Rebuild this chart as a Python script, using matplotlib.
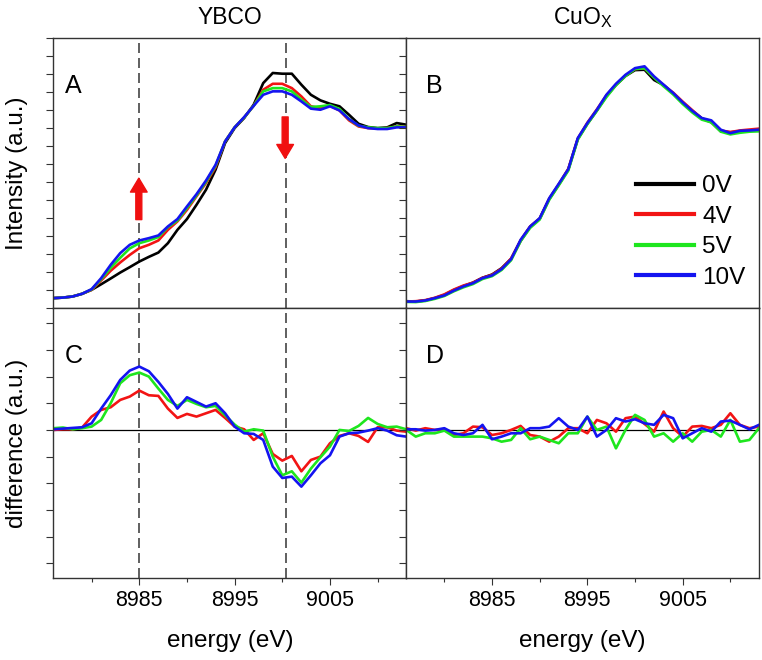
import numpy as np
import matplotlib
matplotlib.use('Agg')
import matplotlib.pyplot as plt
from matplotlib.ticker import MultipleLocator, NullFormatter

plt.rcParams['font.family'] = ['Liberation Sans', 'DejaVu Sans']

# energy grid (eV)
energy = [8976, 8977, 8978, 8979, 8980, 8981, 8982, 8983, 8984, 8985,
          8986, 8987, 8988, 8989, 8990, 8991, 8992, 8993, 8994, 8995,
          8996, 8997, 8998, 8999, 9000, 9001, 9002, 9003, 9004, 9005,
          9006, 9007, 9008, 9009, 9010, 9011, 9012, 9013]

labels = ['0V', '4V', '5V', '10V']
colors = ['black', '#f21414', '#1ee61e', '#1414f0']

# panel A: YBCO intensity
ybco_0v = [0.054, 0.057, 0.063, 0.078, 0.100, 0.131, 0.163, 0.196, 0.226, 0.257,
           0.283, 0.307, 0.359, 0.433, 0.493, 0.572, 0.656, 0.767, 0.915, 0.998,
           1.054, 1.128, 1.248, 1.304, 1.300, 1.300, 1.239, 1.183, 1.152, 1.133,
           1.119, 1.072, 1.022, 1.004, 0.998, 1.002, 1.026, 1.017]
ybco_4v = [0.054, 0.057, 0.063, 0.078, 0.100, 0.152, 0.206, 0.252, 0.294, 0.331,
           0.350, 0.374, 0.433, 0.480, 0.544, 0.619, 0.693, 0.781, 0.924, 1.002,
           1.057, 1.122, 1.211, 1.244, 1.244, 1.220, 1.174, 1.119, 1.109, 1.122,
           1.096, 1.041, 1.007, 0.998, 0.996, 0.998, 1.007, 1.004]
ybco_5v = [0.054, 0.057, 0.063, 0.078, 0.102, 0.159, 0.222, 0.278, 0.330, 0.359,
           0.374, 0.393, 0.448, 0.485, 0.554, 0.624, 0.700, 0.789, 0.924, 1.002,
           1.057, 1.122, 1.202, 1.220, 1.220, 1.202, 1.156, 1.115, 1.119, 1.126,
           1.104, 1.048, 1.011, 1.002, 0.998, 0.998, 1.007, 1.004]
ybco_10v = [0.054, 0.057, 0.063, 0.078, 0.104, 0.165, 0.239, 0.304, 0.350, 0.374,
            0.387, 0.402, 0.452, 0.493, 0.563, 0.631, 0.707, 0.794, 0.924, 1.002,
            1.059, 1.122, 1.183, 1.202, 1.202, 1.183, 1.146, 1.106, 1.100, 1.119,
            1.096, 1.048, 1.013, 0.998, 0.993, 0.993, 1.002, 1.002]

# panel B: CuOx intensity
cuox_0v = [0.037, 0.035, 0.041, 0.054, 0.072, 0.099, 0.121, 0.140, 0.167, 0.185,
           0.220, 0.272, 0.372, 0.450, 0.495, 0.604, 0.684, 0.768, 0.938, 1.022,
           1.096, 1.176, 1.237, 1.287, 1.320, 1.322, 1.265, 1.237, 1.190, 1.137,
           1.093, 1.052, 1.030, 0.980, 0.975, 0.980, 0.985, 0.989]
cuox_4v = [0.035, 0.037, 0.043, 0.056, 0.075, 0.102, 0.124, 0.140, 0.167, 0.183,
           0.218, 0.274, 0.375, 0.452, 0.496, 0.606, 0.686, 0.772, 0.940, 1.028,
           1.102, 1.180, 1.240, 1.290, 1.326, 1.330, 1.280, 1.235, 1.195, 1.145,
           1.098, 1.052, 1.035, 0.985, 0.976, 0.985, 0.990, 0.995]
cuox_5v = [0.033, 0.032, 0.038, 0.050, 0.066, 0.092, 0.114, 0.132, 0.160, 0.176,
           0.210, 0.264, 0.370, 0.444, 0.490, 0.600, 0.680, 0.762, 0.934, 1.020,
           1.094, 1.170, 1.236, 1.287, 1.326, 1.330, 1.278, 1.230, 1.185, 1.132,
           1.085, 1.045, 1.030, 0.978, 0.963, 0.972, 0.978, 0.980]
cuox_10v = [0.035, 0.035, 0.041, 0.054, 0.069, 0.096, 0.119, 0.137, 0.165, 0.180,
            0.215, 0.270, 0.378, 0.452, 0.498, 0.609, 0.689, 0.770, 0.943, 1.026,
            1.100, 1.183, 1.244, 1.294, 1.331, 1.341, 1.285, 1.239, 1.193, 1.141,
            1.094, 1.054, 1.041, 0.989, 0.970, 0.983, 0.985, 0.989]

# panel C: YBCO difference (vs 0V)
ybco_d4v = [0.000, 0.0005, 0.0005, 0.0018, 0.010, 0.015, 0.017, 0.0225, 0.025, 0.0295,
            0.026, 0.0255, 0.016, 0.009, 0.012, 0.010, 0.0125, 0.015, 0.009, 0.0025,
            0.0005, -0.0075, -0.0025, -0.018, -0.023, -0.0195, -0.031, -0.0225, -0.020, -0.010,
            -0.0045, -0.0025, -0.0045, -0.009, 0.002, 0.002, -0.0005, -0.0013]
ybco_d5v = [0.0013, 0.0018, 0.0005, 0.0013, 0.0025, 0.0075, 0.020, 0.035, 0.041, 0.043,
            0.040, 0.031, 0.0225, 0.018, 0.0225, 0.0195, 0.017, 0.018, 0.011, 0.004,
            -0.0013, 0.0005, -0.0005, -0.020, -0.034, -0.031, -0.0395, -0.029, -0.0205, -0.0125,
            0.000, -0.0008, 0.003, 0.009, 0.0045, 0.002, 0.0025, 0.0005]
ybco_d10v = [0.0005, 0.001, 0.0015, 0.002, 0.005, 0.016, 0.026, 0.0375, 0.0445, 0.0475,
             0.044, 0.036, 0.027, 0.016, 0.0245, 0.021, 0.0175, 0.020, 0.0125, 0.0025,
             -0.0025, -0.003, -0.0075, -0.0275, -0.036, -0.035, -0.0425, -0.034, -0.025, -0.019,
             -0.005, -0.0025, -0.002, -0.0005, 0.0013, -0.0005, -0.004, -0.005]

# panel D: CuOx difference (vs 0V)
cuox_d4v = [0.0013, -0.0005, 0.0013, 0.0, 0.0005, -0.0038, -0.0025, 0.0025, 0.002, -0.0038,
            -0.0025, 0.0, 0.003, -0.0038, -0.005, -0.0088, -0.005, 0.0013, 0.0013, -0.0025,
            0.0075, 0.005, -0.0013, 0.0088, 0.010, 0.0045, -0.0013, 0.0138, 0.0013, -0.005,
            0.0025, 0.003, 0.0013, 0.0038, 0.0125, 0.0038, 0.0013, 0.0025]
cuox_d5v = [0.0, -0.005, -0.0025, -0.0025, -0.0005, -0.005, -0.005, -0.005, -0.005, -0.0063,
            -0.0088, -0.0075, 0.0013, -0.007, -0.005, -0.0075, -0.010, -0.0025, -0.0025, 0.010,
            0.0, 0.0025, -0.0138, 0.0, 0.0113, 0.0075, -0.005, -0.0025, -0.0088, -0.0025,
            -0.0088, -0.0013, 0.0, -0.005, 0.0075, -0.0088, -0.0075, 0.0013]
cuox_d10v = [0.0005, 0.0005, -0.0005, 0.0, 0.0013, -0.0025, -0.0038, -0.0025, 0.0038, -0.007,
             -0.005, -0.0025, -0.0025, 0.0013, 0.0013, 0.0025, 0.0088, 0.0025, 0.0, 0.010,
             -0.005, 0.0, 0.0088, 0.0063, 0.008, 0.005, 0.0038, 0.0113, 0.0088, -0.0063,
             -0.0025, 0.0013, -0.0013, 0.0063, 0.007, 0.0038, 0.0005, 0.0038]

marker_energies = [8985, 9000.4]

fig, axes = plt.subplots(2, 2, figsize=(7.62, 6.6), dpi=100, sharex=True)
fig.subplots_adjust(left=0.0702, right=0.996, bottom=0.1242, top=0.9429,
                    wspace=0, hspace=0)
axA, axB = axes[0]
axC, axD = axes[1]

lw = 1.9
for ys, c, lab in zip([ybco_0v, ybco_4v, ybco_5v, ybco_10v], colors, labels):
    axA.plot(energy, ys, color=c, lw=lw, label=lab)
for ys, c, lab in zip([cuox_0v, cuox_4v, cuox_5v, cuox_10v], colors, labels):
    axB.plot(energy, ys, color=c, lw=lw, label=lab)
for ys, c in zip([ybco_d4v, ybco_d5v, ybco_d10v], colors[1:]):
    axC.plot(energy, ys, color=c, lw=lw)
for ys, c in zip([cuox_d4v, cuox_d5v, cuox_d10v], colors[1:]):
    axD.plot(energy, ys, color=c, lw=lw)

for ax in (axC, axD):
    ax.axhline(0, color='black', lw=0.9, zorder=1)

for ax in (axA, axC):
    for e in marker_energies:
        ax.axvline(e, color='#444444', lw=1.2, linestyle=(0, (6, 3)), zorder=0)

# arrows in panel A
arrow_kw = dict(facecolor='#f01010', edgecolor='#f01010', width=4.3,
                headwidth=12, headlength=10, shrink=0)
axA.annotate('', xy=(8984.95, 0.72), xytext=(8984.95, 0.49), arrowprops=arrow_kw)
axA.annotate('', xy=(9000.3, 0.83), xytext=(9000.3, 1.06), arrowprops=arrow_kw)

for ax in (axA, axB):
    ax.set_ylim(0, 1.5)
    ax.yaxis.set_major_locator(MultipleLocator(0.1))
for ax in (axC, axD):
    ax.set_ylim(-0.111, 0.0915)
    ax.yaxis.set_major_locator(MultipleLocator(0.02))

for ax in axes.flat:
    ax.set_xlim(8976, 9013)
    ax.xaxis.set_major_locator(MultipleLocator(10, offset=5))
    ax.xaxis.set_minor_locator(MultipleLocator(10))
    ax.yaxis.set_major_formatter(NullFormatter())
    ax.tick_params(axis='both', which='major', direction='out', length=5,
                   width=0.8, color='#333333', labelsize=15.5, pad=3.5)
    ax.tick_params(axis='x', which='minor', direction='out', length=3,
                   width=0.8, color='#333333')
    for sp in ax.spines.values():
        sp.set_color('#333333')
        sp.set_linewidth(1.0)

for ax in (axC, axD):
    ax.set_xlabel('energy (eV)', fontsize=17.5)
    ax.xaxis.set_label_coords(0.5, -0.193)

axA.set_ylabel('Intensity (a.u.)', fontsize=17.5)
axC.set_ylabel('difference (a.u.)', fontsize=17.5)
for ax in (axA, axC):
    ax.yaxis.set_label_coords(-0.072, 0.5)

for ax, title in ((axA, 'YBCO'), (axB, r'CuO$_\mathregular{X}$')):
    ax.annotate(title, xy=(0.5, 1.0), xycoords='axes fraction',
                xytext=(0, 14), textcoords='offset pixels',
                ha='center', va='baseline', fontsize=16.5)

for ax, letter, x in ((axA, 'A', 0.033), (axB, 'B', 0.055),
                      (axC, 'C', 0.033), (axD, 'D', 0.055)):
    ax.text(x, 0.822, letter, transform=ax.transAxes, fontsize=18,
            ha='left', va='center')

leg = axB.legend(loc='lower right', bbox_to_anchor=(0.99, 0.035),
                 frameon=False, fontsize=17.5, handlelength=2.4,
                 handletextpad=0.33, labelspacing=0.35, borderaxespad=0)
for h in leg.legend_handles:
    h.set_linewidth(3)

fig.savefig('out.png', dpi=100)
